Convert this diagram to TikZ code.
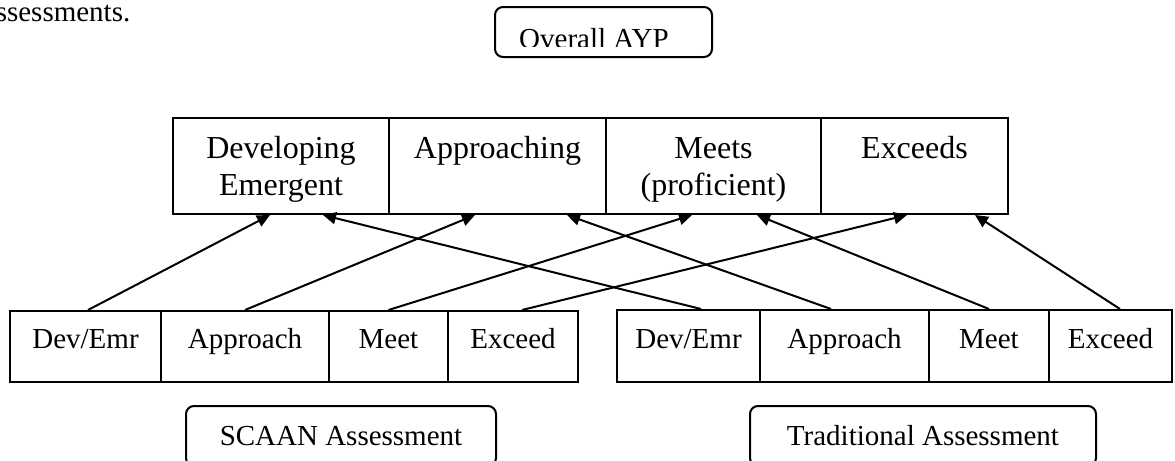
\documentclass[tikz,border=0pt]{standalone}
\usepackage{fontspec}
\setmainfont{Liberation Serif}
\usetikzlibrary{arrows.meta}
\newcommand{\lvlstrut}{\rule{0pt}{16.5pt}}

\begin{document}
\begin{tikzpicture}[x=0.5pt,y=-0.5pt,>={Triangle[length=6.5pt,width=6pt]},line width=1pt,
  level box/.style={rectangle,draw,minimum height=48pt,inner ysep=2pt,align=center,font=\fontsize{16}{18.5}\selectfont},
  grade box/.style={rectangle,draw,text height=10pt,text depth=8pt},
  name box/.style={rectangle,draw,rounded corners=4pt}]
	\tikzstyle{every node}=[font=\fontsize{14.5}{17}\selectfont]
	\useasboundingbox (0,0) rectangle (1175,461);
	\node (prev) at (138,21) [anchor=base east] {assessments.};
	% overall AYP, text cut off at the bottom
	\node (ayp) at (603.5,32) [name box, minimum width=108.5pt, minimum height=25pt] {};
	\begin{scope}
	\clip (495,7) rectangle (712,46);
	\node (aypt) at (594,48) [anchor=base] {Overall AYP};
	\end{scope}
	% levels
	\draw (281,166) node(dev) [level box, minimum width=108pt] {\lvlstrut Developing\\Emergent\strut}
	      (497.5,166) node(app) [level box, minimum width=108.5pt] {\lvlstrut Approaching\\\strut}
	      (713.5,166) node(mee) [level box, minimum width=107.5pt] {\lvlstrut Meets\\(proficient)\strut}
	      (914.5,166) node(exc) [level box, minimum width=93.5pt] {\lvlstrut Exceeds\\\strut};
	% SCAAN
	\draw (85.5,346.5) node(s1) [grade box, minimum width=75.5pt, minimum height=35.5pt] {Dev/Emr}
	      (245,346.5) node(s2) [grade box, minimum width=84pt, minimum height=35.5pt] {Approach\hspace{7pt}}
	      (388.5,346.5) node(s3) [grade box, minimum width=59.5pt, minimum height=35.5pt] {Meet\hspace{9pt}}
	      (513,346.5) node(s4) [grade box, minimum width=65pt, minimum height=35.5pt] {Exceed};
	% traditional
	\draw (688.5,346) node(t1) [grade box, minimum width=71.5pt, minimum height=36pt] {Dev/Emr}
	      (844.5,346) node(t2) [grade box, minimum width=84.5pt, minimum height=36pt] {Approach\hspace{7pt}}
	      (989,346) node(t3) [grade box, minimum width=60pt, minimum height=36pt] {Meet\hspace{9pt}}
	      (1110.5,346) node(t4) [grade box, minimum width=61.5pt, minimum height=36pt] {Exceed};
	\draw (341,436) node(scaan) [name box, minimum width=155pt, minimum height=30pt, text height=10pt, text depth=1pt] {SCAAN Assessment}
	      (923,436) node(trad) [name box, minimum width=173pt, minimum height=30pt, text height=10pt, text depth=1pt] {Traditional Assessment};
	\draw[->] ([xshift=1.25pt]s1.north) to ([xshift=-5.5pt]dev.south);
	\draw[->] (s2.north) to ([xshift=-11.25pt]app.south);
	\draw[->] (s3.north) to ([xshift=-10.75pt]mee.south);
	\draw[->] ([xshift=4.5pt]s4.north) to ([xshift=-3.75pt]exc.south);
	\draw[->] ([xshift=6.25pt]t1.north) to ([xshift=21pt]dev.south);
	\draw[->] ([xshift=-6.75pt]t2.north) to ([xshift=34.75pt]app.south);
	\draw[->] (t3.north) to ([xshift=21.75pt]mee.south);
	\draw[->] ([xshift=4.75pt]t4.north) to ([xshift=30.25pt]exc.south);
\end{tikzpicture}
\end{document}
